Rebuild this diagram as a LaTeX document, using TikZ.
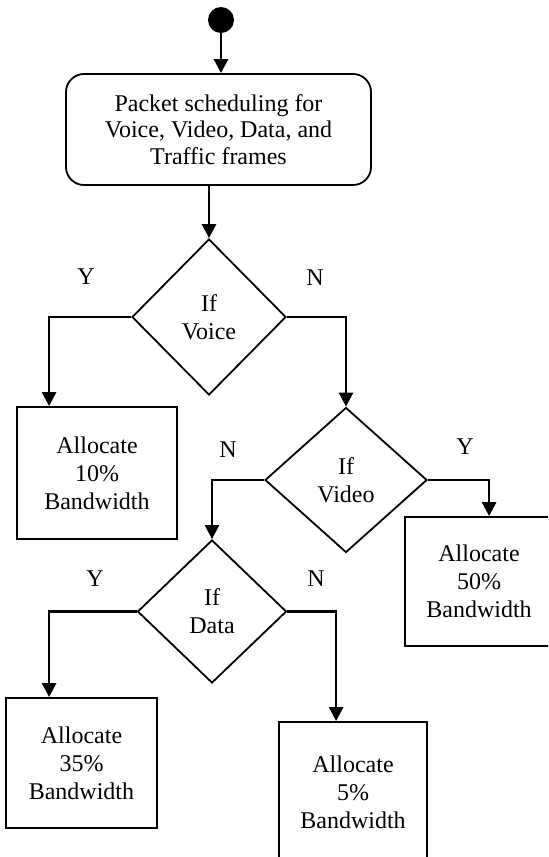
\documentclass[tikz,border=0pt]{standalone}
\usepackage{fontspec}
\setmainfont{Liberation Serif}
\usetikzlibrary{shapes.geometric,arrows.meta}

\begin{document}
\begin{tikzpicture}[x=0.5pt,y=-0.5pt,font=\fontsize{12}{14}\selectfont,
  box/.style={draw,line width=0.9pt,align=center,inner sep=0pt},
  decision/.style={draw,diamond,line width=0.9pt,align=center,inner sep=0pt},
  arr/.style={line width=1.3pt,-{Triangle[width=7pt,length=7pt]}},
  lbl/.style={inner sep=0pt}]
  \useasboundingbox (0,0) rectangle (548,857);
  \clip (0,0) rectangle (548,857);
  % start and scheduler
  \node[circle,fill=black,minimum size=13pt,inner sep=0pt] (start) at (221,20) {};
  \node[box,rounded corners=9pt,minimum width=152.5pt,minimum height=55.5pt,
    font=\fontsize{12}{13.25}\selectfont] (sched) at (218.5,129.5)
    {Packet scheduling for\\Voice, Video, Data, and\\Traffic frames};
  % decisions
  \node[decision,minimum width=77pt,minimum height=78pt] (voice) at (209,317) {If\\Voice};
  \node[decision,minimum width=81pt,minimum height=72.5pt] (video) at (346,480) {If\\Video};
  \node[decision,minimum width=74.5pt,minimum height=71.5pt] (data) at (212,611.5) {If\\Data};
  % allocations
  \node[box,minimum width=80pt,minimum height=66pt] (bw10) at (97,473) {Allocate\\10\%\\Bandwidth};
  \node[box,minimum width=74pt,minimum height=64.5pt] (bw50) at (479,581.5) {Allocate\\50\%\\Bandwidth};
  \node[box,minimum width=75.5pt,minimum height=65pt] (bw35) at (81.5,763) {Allocate\\35\%\\Bandwidth};
  \node[box,minimum width=74pt,minimum height=70pt] (bw5) at (353,792) {Allocate\\5\%\\Bandwidth};
  % Y / N labels
  \node[lbl] (voiceY) at (86,277) {Y};
  \node[lbl] (voiceN) at (315,278) {N};
  \node[lbl] (videoN) at (228,450) {N};
  \node[lbl] (videoY) at (465,447) {Y};
  \node[lbl] (dataY) at (95,579) {Y};
  \node[lbl] (dataN) at (316,579) {N};
  % flow
  \draw[arr] (start) -- (start |- sched.north);
  \draw[arr] (voice.north |- sched.south) -- (voice.north);
  \draw[arr] (voice.west) -| ([xshift=16.5pt]bw10.north west);
  \draw[arr] (voice.east) -| (video.north);
  \draw[arr] (video.east) -| ([xshift=42.5pt]bw50.north west);
  \draw[arr] (video.west) -| (data.north);
  \draw[arr] (data.west) -| ([xshift=22pt]bw35.north west);
  \draw[arr] (data.east) -| ([xshift=29pt]bw5.north west);
\end{tikzpicture}
\end{document}
